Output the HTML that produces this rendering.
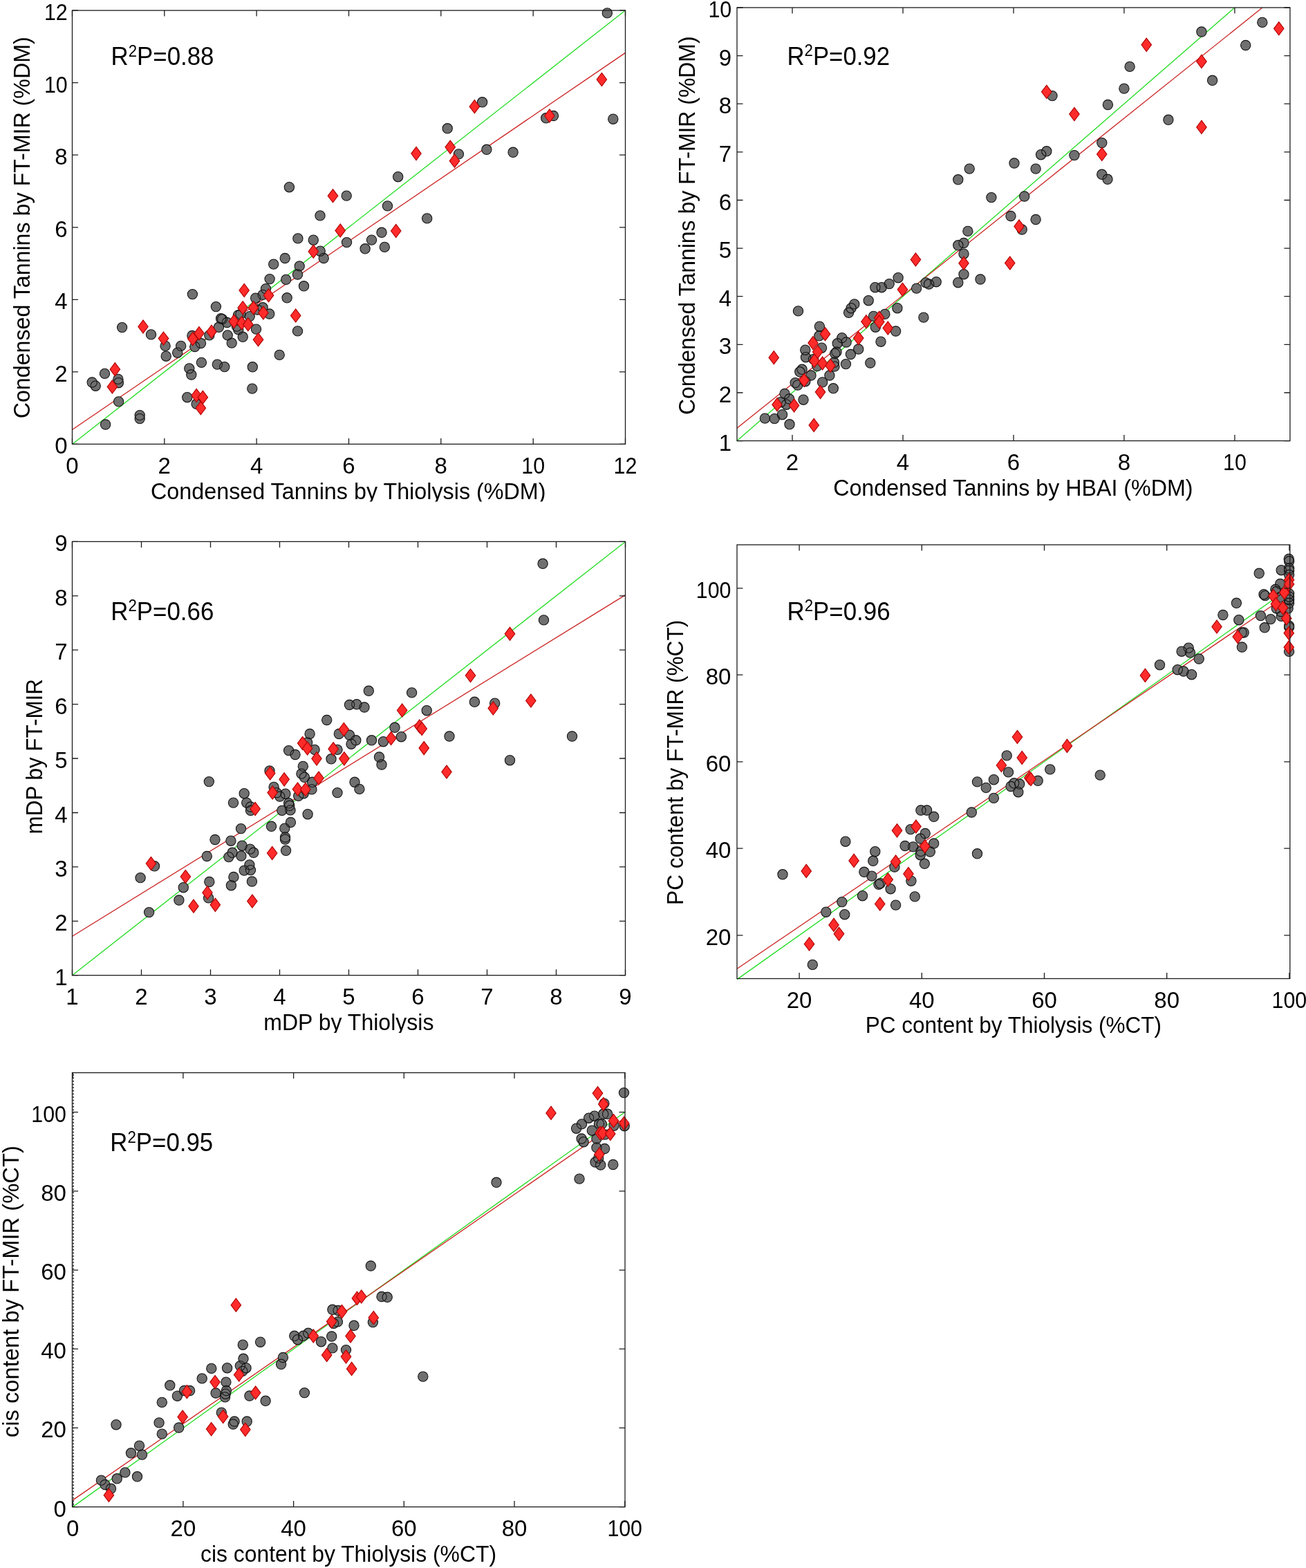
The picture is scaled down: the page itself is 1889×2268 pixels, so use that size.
<!DOCTYPE html>
<html><head><meta charset="utf-8"><title>Figure</title><style>html,body{margin:0;padding:0;background:#fff;}svg{display:block;}</style></head><body>
<svg width="1889" height="2268" viewBox="0 0 1889 2268">
<defs><clipPath id="c1"><rect x="0" y="0" width="944" height="725.5"/></clipPath><clipPath id="c3"><rect x="0" y="740" width="944" height="754"/></clipPath></defs>
<rect width="1889" height="2268" fill="#fff"/>
<g clip-path="url(#c1)">
<line x1="104.5" y1="642.4" x2="904.5" y2="15.1" stroke="#22dd22" stroke-width="1.3"/>
<line x1="104.5" y1="621.5" x2="904.5" y2="76.4" stroke="#cc2222" stroke-width="1.3"/>
<g fill="#707070">
<circle cx="418.4" cy="270.7" r="7.15"/>
<circle cx="463" cy="311.9" r="7.15"/>
<circle cx="878.3" cy="18.9" r="7.15"/>
<circle cx="697.6" cy="147.8" r="7.15"/>
<circle cx="647.2" cy="185.8" r="7.15"/>
<circle cx="663.4" cy="222.9" r="7.15"/>
<circle cx="703.9" cy="216.3" r="7.15"/>
<circle cx="742.1" cy="220.3" r="7.15"/>
<circle cx="789.7" cy="170.8" r="7.15"/>
<circle cx="800.5" cy="167.5" r="7.15"/>
<circle cx="886.8" cy="172.2" r="7.15"/>
<circle cx="575.7" cy="255.7" r="7.15"/>
<circle cx="501.2" cy="283.1" r="7.15"/>
<circle cx="560.5" cy="297.9" r="7.15"/>
<circle cx="617.7" cy="315.9" r="7.15"/>
<circle cx="552" cy="336.3" r="7.15"/>
<circle cx="537.5" cy="347.1" r="7.15"/>
<circle cx="501.5" cy="350.6" r="7.15"/>
<circle cx="528.1" cy="359.8" r="7.15"/>
<circle cx="556.3" cy="357.4" r="7.15"/>
<circle cx="133.2" cy="553" r="7.15"/>
<circle cx="138.2" cy="558.2" r="7.15"/>
<circle cx="151.5" cy="540.4" r="7.15"/>
<circle cx="170.9" cy="548.4" r="7.15"/>
<circle cx="171.4" cy="553.7" r="7.15"/>
<circle cx="171.6" cy="580.9" r="7.15"/>
<circle cx="152.6" cy="614" r="7.15"/>
<circle cx="202.2" cy="600.6" r="7.15"/>
<circle cx="202.2" cy="605.6" r="7.15"/>
<circle cx="176.6" cy="473.6" r="7.15"/>
<circle cx="218.5" cy="483.9" r="7.15"/>
<circle cx="239.1" cy="500.4" r="7.15"/>
<circle cx="240.2" cy="515.2" r="7.15"/>
<circle cx="261.7" cy="500.4" r="7.15"/>
<circle cx="256.7" cy="510.2" r="7.15"/>
<circle cx="278.4" cy="425.6" r="7.15"/>
<circle cx="277.9" cy="485.5" r="7.15"/>
<circle cx="281.8" cy="501.5" r="7.15"/>
<circle cx="290.5" cy="496.5" r="7.15"/>
<circle cx="273.8" cy="532.9" r="7.15"/>
<circle cx="276.8" cy="542" r="7.15"/>
<circle cx="291.4" cy="524.4" r="7.15"/>
<circle cx="314.3" cy="527.1" r="7.15"/>
<circle cx="324.8" cy="530.6" r="7.15"/>
<circle cx="365.3" cy="530.8" r="7.15"/>
<circle cx="364.8" cy="562.1" r="7.15"/>
<circle cx="404.2" cy="513.4" r="7.15"/>
<circle cx="270.8" cy="574.7" r="7.15"/>
<circle cx="284.1" cy="584.3" r="7.15"/>
<circle cx="302.8" cy="484.9" r="7.15"/>
<circle cx="312.4" cy="443.6" r="7.15"/>
<circle cx="316.4" cy="473.3" r="7.15"/>
<circle cx="319.6" cy="460.8" r="7.15"/>
<circle cx="321.6" cy="461.6" r="7.15"/>
<circle cx="328.4" cy="466.5" r="7.15"/>
<circle cx="329.2" cy="484.9" r="7.15"/>
<circle cx="335.2" cy="496.1" r="7.15"/>
<circle cx="342.4" cy="472.1" r="7.15"/>
<circle cx="344.8" cy="476.9" r="7.15"/>
<circle cx="344.4" cy="456" r="7.15"/>
<circle cx="348" cy="454.4" r="7.15"/>
<circle cx="351.2" cy="487.3" r="7.15"/>
<circle cx="361.2" cy="457.6" r="7.15"/>
<circle cx="369.7" cy="431.2" r="7.15"/>
<circle cx="370.5" cy="476.1" r="7.15"/>
<circle cx="372.5" cy="448" r="7.15"/>
<circle cx="380.1" cy="426.4" r="7.15"/>
<circle cx="380.1" cy="444.8" r="7.15"/>
<circle cx="384.5" cy="417.6" r="7.15"/>
<circle cx="389.7" cy="454" r="7.15"/>
<circle cx="390.1" cy="403.6" r="7.15"/>
<circle cx="395.7" cy="382.1" r="7.15"/>
<circle cx="412.2" cy="373.5" r="7.15"/>
<circle cx="413.7" cy="404.4" r="7.15"/>
<circle cx="415.1" cy="430.8" r="7.15"/>
<circle cx="430.5" cy="478.9" r="7.15"/>
<circle cx="430.5" cy="397" r="7.15"/>
<circle cx="433.2" cy="384.9" r="7.15"/>
<circle cx="439.5" cy="413.8" r="7.15"/>
<circle cx="430.9" cy="344.9" r="7.15"/>
<circle cx="453.3" cy="347.2" r="7.15"/>
<circle cx="463.2" cy="363.2" r="7.15"/>
<circle cx="468.2" cy="373.5" r="7.15"/>
</g><g fill="none" stroke="#141414" stroke-width="1.1">
<circle cx="418.4" cy="270.7" r="7.15"/>
<circle cx="463" cy="311.9" r="7.15"/>
<circle cx="878.3" cy="18.9" r="7.15"/>
<circle cx="697.6" cy="147.8" r="7.15"/>
<circle cx="647.2" cy="185.8" r="7.15"/>
<circle cx="663.4" cy="222.9" r="7.15"/>
<circle cx="703.9" cy="216.3" r="7.15"/>
<circle cx="742.1" cy="220.3" r="7.15"/>
<circle cx="789.7" cy="170.8" r="7.15"/>
<circle cx="800.5" cy="167.5" r="7.15"/>
<circle cx="886.8" cy="172.2" r="7.15"/>
<circle cx="575.7" cy="255.7" r="7.15"/>
<circle cx="501.2" cy="283.1" r="7.15"/>
<circle cx="560.5" cy="297.9" r="7.15"/>
<circle cx="617.7" cy="315.9" r="7.15"/>
<circle cx="552" cy="336.3" r="7.15"/>
<circle cx="537.5" cy="347.1" r="7.15"/>
<circle cx="501.5" cy="350.6" r="7.15"/>
<circle cx="528.1" cy="359.8" r="7.15"/>
<circle cx="556.3" cy="357.4" r="7.15"/>
<circle cx="133.2" cy="553" r="7.15"/>
<circle cx="138.2" cy="558.2" r="7.15"/>
<circle cx="151.5" cy="540.4" r="7.15"/>
<circle cx="170.9" cy="548.4" r="7.15"/>
<circle cx="171.4" cy="553.7" r="7.15"/>
<circle cx="171.6" cy="580.9" r="7.15"/>
<circle cx="152.6" cy="614" r="7.15"/>
<circle cx="202.2" cy="600.6" r="7.15"/>
<circle cx="202.2" cy="605.6" r="7.15"/>
<circle cx="176.6" cy="473.6" r="7.15"/>
<circle cx="218.5" cy="483.9" r="7.15"/>
<circle cx="239.1" cy="500.4" r="7.15"/>
<circle cx="240.2" cy="515.2" r="7.15"/>
<circle cx="261.7" cy="500.4" r="7.15"/>
<circle cx="256.7" cy="510.2" r="7.15"/>
<circle cx="278.4" cy="425.6" r="7.15"/>
<circle cx="277.9" cy="485.5" r="7.15"/>
<circle cx="281.8" cy="501.5" r="7.15"/>
<circle cx="290.5" cy="496.5" r="7.15"/>
<circle cx="273.8" cy="532.9" r="7.15"/>
<circle cx="276.8" cy="542" r="7.15"/>
<circle cx="291.4" cy="524.4" r="7.15"/>
<circle cx="314.3" cy="527.1" r="7.15"/>
<circle cx="324.8" cy="530.6" r="7.15"/>
<circle cx="365.3" cy="530.8" r="7.15"/>
<circle cx="364.8" cy="562.1" r="7.15"/>
<circle cx="404.2" cy="513.4" r="7.15"/>
<circle cx="270.8" cy="574.7" r="7.15"/>
<circle cx="284.1" cy="584.3" r="7.15"/>
<circle cx="302.8" cy="484.9" r="7.15"/>
<circle cx="312.4" cy="443.6" r="7.15"/>
<circle cx="316.4" cy="473.3" r="7.15"/>
<circle cx="319.6" cy="460.8" r="7.15"/>
<circle cx="321.6" cy="461.6" r="7.15"/>
<circle cx="328.4" cy="466.5" r="7.15"/>
<circle cx="329.2" cy="484.9" r="7.15"/>
<circle cx="335.2" cy="496.1" r="7.15"/>
<circle cx="342.4" cy="472.1" r="7.15"/>
<circle cx="344.8" cy="476.9" r="7.15"/>
<circle cx="344.4" cy="456" r="7.15"/>
<circle cx="348" cy="454.4" r="7.15"/>
<circle cx="351.2" cy="487.3" r="7.15"/>
<circle cx="361.2" cy="457.6" r="7.15"/>
<circle cx="369.7" cy="431.2" r="7.15"/>
<circle cx="370.5" cy="476.1" r="7.15"/>
<circle cx="372.5" cy="448" r="7.15"/>
<circle cx="380.1" cy="426.4" r="7.15"/>
<circle cx="380.1" cy="444.8" r="7.15"/>
<circle cx="384.5" cy="417.6" r="7.15"/>
<circle cx="389.7" cy="454" r="7.15"/>
<circle cx="390.1" cy="403.6" r="7.15"/>
<circle cx="395.7" cy="382.1" r="7.15"/>
<circle cx="412.2" cy="373.5" r="7.15"/>
<circle cx="413.7" cy="404.4" r="7.15"/>
<circle cx="415.1" cy="430.8" r="7.15"/>
<circle cx="430.5" cy="478.9" r="7.15"/>
<circle cx="430.5" cy="397" r="7.15"/>
<circle cx="433.2" cy="384.9" r="7.15"/>
<circle cx="439.5" cy="413.8" r="7.15"/>
<circle cx="430.9" cy="344.9" r="7.15"/>
<circle cx="453.3" cy="347.2" r="7.15"/>
<circle cx="463.2" cy="363.2" r="7.15"/>
<circle cx="468.2" cy="373.5" r="7.15"/>
</g>
<g fill="#ff2b2b" stroke="#b00000" stroke-width="1.1" stroke-linejoin="miter">
<path d="M481.5 273.7L488.8 283.3L481.5 292.9L474.2 283.3Z"/>
<path d="M870.4 105.3L877.6 115L870.4 124.7L863.1 115Z"/>
<path d="M686.4 144.5L693.6 154.2L686.4 163.8L679.1 154.2Z"/>
<path d="M651.2 203.2L658.5 212.8L651.2 222.5L644 212.8Z"/>
<path d="M657.5 223L664.8 232.7L657.5 242.3L650.2 232.7Z"/>
<path d="M602 212.4L609.2 222.1L602 231.8L594.8 222.1Z"/>
<path d="M794.9 157.8L802.1 167.5L794.9 177.2L787.6 167.5Z"/>
<path d="M572.7 324.4L580 334L572.7 343.6L565.5 334Z"/>
<path d="M166.3 524.6L173.6 534.2L166.3 543.9L159.1 534.2Z"/>
<path d="M162.4 549.8L169.7 559.4L162.4 569L155.2 559.4Z"/>
<path d="M207 462.9L214.2 472.5L207 482.1L199.8 472.5Z"/>
<path d="M236.5 480L243.8 489.6L236.5 499.2L229.2 489.6Z"/>
<path d="M278.8 480.5L286.1 490.1L278.8 499.8L271.6 490.1Z"/>
<path d="M288 472.5L295.2 482.1L288 491.8L280.8 482.1Z"/>
<path d="M284.1 562.4L291.4 572L284.1 581.6L276.9 572Z"/>
<path d="M293.3 565.1L300.6 574.7L293.3 584.4L286.1 574.7Z"/>
<path d="M290.3 580.6L297.6 590.3L290.3 599.9L283.1 590.3Z"/>
<path d="M306 470.1L313.2 479.7L306 489.3L298.8 479.7Z"/>
<path d="M338.4 455.2L345.6 464.9L338.4 474.5L331.1 464.9Z"/>
<path d="M349.6 457.7L356.9 467.3L349.6 476.9L342.4 467.3Z"/>
<path d="M351.2 435.6L358.4 445.2L351.2 454.8L343.9 445.2Z"/>
<path d="M353.2 410.4L360.4 420L353.2 429.6L345.9 420Z"/>
<path d="M358.8 459.7L366.1 469.3L358.8 478.9L351.6 469.3Z"/>
<path d="M366.5 435.6L373.8 445.2L366.5 454.8L359.2 445.2Z"/>
<path d="M373.5 481.6L380.8 491.2L373.5 500.8L366.2 491.2Z"/>
<path d="M380.9 442.8L388.1 452.4L380.9 462L373.6 452.4Z"/>
<path d="M388.5 417.6L395.8 427.2L388.5 436.8L381.2 427.2Z"/>
<path d="M427.7 446.8L434.9 456.4L427.7 466L420.4 456.4Z"/>
<path d="M453.3 354.2L460.6 363.8L453.3 373.4L446.1 363.8Z"/>
<path d="M492.2 323.8L499.4 333.4L492.2 343L484.9 333.4Z"/>
</g>
<g stroke="#1c1c1c" stroke-width="1.3" fill="none">
<rect x="104.5" y="15.1" width="800" height="627.3"/>
<path d="M104.5 642.4v-8.5M104.5 15.1v8.5M237.8 642.4v-8.5M237.8 15.1v8.5M371.1 642.4v-8.5M371.1 15.1v8.5M504.5 642.4v-8.5M504.5 15.1v8.5M637.8 642.4v-8.5M637.8 15.1v8.5M771.2 642.4v-8.5M771.2 15.1v8.5M904.5 642.4v-8.5M904.5 15.1v8.5M104.5 642.4h8.5M904.5 642.4h-8.5M104.5 537.9h8.5M904.5 537.9h-8.5M104.5 433.3h8.5M904.5 433.3h-8.5M104.5 328.8h8.5M904.5 328.8h-8.5M104.5 224.2h8.5M904.5 224.2h-8.5M104.5 119.6h8.5M904.5 119.6h-8.5M104.5 15.1h8.5M904.5 15.1h-8.5" stroke-width="1.3"/>
</g>
<g font-family="'Liberation Sans', Arial, sans-serif" font-size="33" fill="#000">
<text x="104.5" y="684.7" text-anchor="middle">0</text>
<text x="237.8" y="684.7" text-anchor="middle">2</text>
<text x="371.1" y="684.7" text-anchor="middle">4</text>
<text x="504.5" y="684.7" text-anchor="middle">6</text>
<text x="637.8" y="684.7" text-anchor="middle">8</text>
<text x="771.2" y="684.7" text-anchor="middle" textLength="33.8" lengthAdjust="spacingAndGlyphs">10</text>
<text x="904.5" y="684.7" text-anchor="middle" textLength="33.8" lengthAdjust="spacingAndGlyphs">12</text>
<text x="97.7" y="656.4" text-anchor="end">0</text>
<text x="97.7" y="551.9" text-anchor="end">2</text>
<text x="97.7" y="447.3" text-anchor="end">4</text>
<text x="97.7" y="342.8" text-anchor="end">6</text>
<text x="97.7" y="238.2" text-anchor="end">8</text>
<text x="97.7" y="133.6" text-anchor="end" textLength="33.8" lengthAdjust="spacingAndGlyphs">10</text>
<text x="97.7" y="29.1" text-anchor="end" textLength="33.8" lengthAdjust="spacingAndGlyphs">12</text>
</g>
<text x="218" y="721.6" font-family="'Liberation Sans', Arial, sans-serif" font-size="33.3" textLength="571.5" lengthAdjust="spacingAndGlyphs">Condensed Tannins by Thiolysis (%DM)</text>
<text transform="translate(43.3 605.3) rotate(-90)" font-family="'Liberation Sans', Arial, sans-serif" font-size="33.3" textLength="552" lengthAdjust="spacingAndGlyphs">Condensed Tannins by FT-MIR (%DM)</text>
<text x="160.5" y="94.2" font-family="'Liberation Sans', Arial, sans-serif" font-size="37.6" textLength="149" lengthAdjust="spacingAndGlyphs">R<tspan font-size="24" dy="-12.5">2</tspan><tspan dy="12.5">P=0.88</tspan></text>
</g>
<g>
<line x1="1066" y1="637.6" x2="1785.9" y2="11" stroke="#22dd22" stroke-width="1.3"/>
<line x1="1066" y1="619.3" x2="1825.9" y2="11" stroke="#cc2222" stroke-width="1.3"/>
<g fill="#707070">
<circle cx="1825.8" cy="32.4" r="7.15"/>
<circle cx="1737.9" cy="46" r="7.15"/>
<circle cx="1801.7" cy="65.5" r="7.15"/>
<circle cx="1634.1" cy="96.4" r="7.15"/>
<circle cx="1753.6" cy="116.3" r="7.15"/>
<circle cx="1625.9" cy="128.1" r="7.15"/>
<circle cx="1522" cy="138.6" r="7.15"/>
<circle cx="1602.4" cy="151.5" r="7.15"/>
<circle cx="1689.9" cy="173.3" r="7.15"/>
<circle cx="1593.8" cy="206.6" r="7.15"/>
<circle cx="1553.9" cy="224.6" r="7.15"/>
<circle cx="1505.6" cy="223.7" r="7.15"/>
<circle cx="1513.8" cy="218.8" r="7.15"/>
<circle cx="1498.1" cy="244.1" r="7.15"/>
<circle cx="1467" cy="236" r="7.15"/>
<circle cx="1593.8" cy="252.3" r="7.15"/>
<circle cx="1602" cy="259.3" r="7.15"/>
<circle cx="1481.7" cy="284" r="7.15"/>
<circle cx="1498.1" cy="317.5" r="7.15"/>
<circle cx="1478.2" cy="332" r="7.15"/>
<circle cx="1402.2" cy="244.1" r="7.15"/>
<circle cx="1385.8" cy="259.8" r="7.15"/>
<circle cx="1433.9" cy="285.6" r="7.15"/>
<circle cx="1462" cy="312.5" r="7.15"/>
<circle cx="1399.9" cy="334.4" r="7.15"/>
<circle cx="1385.8" cy="354.8" r="7.15"/>
<circle cx="1394" cy="351.5" r="7.15"/>
<circle cx="1394" cy="367.2" r="7.15"/>
<circle cx="1394" cy="396.7" r="7.15"/>
<circle cx="1385.8" cy="408.7" r="7.15"/>
<circle cx="1418" cy="404" r="7.15"/>
<circle cx="1299.1" cy="401.7" r="7.15"/>
<circle cx="1286.2" cy="410.6" r="7.15"/>
<circle cx="1275.2" cy="415.7" r="7.15"/>
<circle cx="1265.8" cy="415.7" r="7.15"/>
<circle cx="1325.6" cy="417.1" r="7.15"/>
<circle cx="1339" cy="408.9" r="7.15"/>
<circle cx="1343.6" cy="411" r="7.15"/>
<circle cx="1354.2" cy="407.7" r="7.15"/>
<circle cx="1256.2" cy="434.7" r="7.15"/>
<circle cx="1235.8" cy="439.9" r="7.15"/>
<circle cx="1231.1" cy="445.7" r="7.15"/>
<circle cx="1227.6" cy="452.3" r="7.15"/>
<circle cx="1297.9" cy="445.7" r="7.15"/>
<circle cx="1335.9" cy="459.1" r="7.15"/>
<circle cx="1154.5" cy="449.9" r="7.15"/>
<circle cx="1263.5" cy="457.4" r="7.15"/>
<circle cx="1279.9" cy="454.4" r="7.15"/>
<circle cx="1266.3" cy="473.2" r="7.15"/>
<circle cx="1295.6" cy="479" r="7.15"/>
<circle cx="1274" cy="494.2" r="7.15"/>
<circle cx="1241.7" cy="505" r="7.15"/>
<circle cx="1185.4" cy="472.2" r="7.15"/>
<circle cx="1184.9" cy="485.8" r="7.15"/>
<circle cx="1188.5" cy="503.2" r="7.15"/>
<circle cx="1164.8" cy="506.2" r="7.15"/>
<circle cx="1165.5" cy="516.7" r="7.15"/>
<circle cx="1176.5" cy="519.6" r="7.15"/>
<circle cx="1181.9" cy="529.6" r="7.15"/>
<circle cx="1206.5" cy="524.3" r="7.15"/>
<circle cx="1207" cy="530.1" r="7.15"/>
<circle cx="1217.8" cy="488.6" r="7.15"/>
<circle cx="1224.1" cy="495" r="7.15"/>
<circle cx="1211.2" cy="496.8" r="7.15"/>
<circle cx="1210" cy="509" r="7.15"/>
<circle cx="1207.7" cy="511.4" r="7.15"/>
<circle cx="1230.4" cy="512.5" r="7.15"/>
<circle cx="1223.4" cy="526.6" r="7.15"/>
<circle cx="1258.8" cy="525" r="7.15"/>
<circle cx="1160.1" cy="534.3" r="7.15"/>
<circle cx="1156.8" cy="537.8" r="7.15"/>
<circle cx="1173" cy="543" r="7.15"/>
<circle cx="1199.9" cy="543" r="7.15"/>
<circle cx="1164.8" cy="551.7" r="7.15"/>
<circle cx="1150.2" cy="553.6" r="7.15"/>
<circle cx="1153.8" cy="557.1" r="7.15"/>
<circle cx="1189.6" cy="552.9" r="7.15"/>
<circle cx="1205.3" cy="561.8" r="7.15"/>
<circle cx="1135" cy="569.5" r="7.15"/>
<circle cx="1141.6" cy="577" r="7.15"/>
<circle cx="1129.2" cy="581.7" r="7.15"/>
<circle cx="1137.4" cy="585.2" r="7.15"/>
<circle cx="1162" cy="578.2" r="7.15"/>
<circle cx="1106.4" cy="605.1" r="7.15"/>
<circle cx="1120.2" cy="605.6" r="7.15"/>
<circle cx="1131.5" cy="599.7" r="7.15"/>
<circle cx="1142" cy="613.8" r="7.15"/>
</g><g fill="none" stroke="#141414" stroke-width="1.1">
<circle cx="1825.8" cy="32.4" r="7.15"/>
<circle cx="1737.9" cy="46" r="7.15"/>
<circle cx="1801.7" cy="65.5" r="7.15"/>
<circle cx="1634.1" cy="96.4" r="7.15"/>
<circle cx="1753.6" cy="116.3" r="7.15"/>
<circle cx="1625.9" cy="128.1" r="7.15"/>
<circle cx="1522" cy="138.6" r="7.15"/>
<circle cx="1602.4" cy="151.5" r="7.15"/>
<circle cx="1689.9" cy="173.3" r="7.15"/>
<circle cx="1593.8" cy="206.6" r="7.15"/>
<circle cx="1553.9" cy="224.6" r="7.15"/>
<circle cx="1505.6" cy="223.7" r="7.15"/>
<circle cx="1513.8" cy="218.8" r="7.15"/>
<circle cx="1498.1" cy="244.1" r="7.15"/>
<circle cx="1467" cy="236" r="7.15"/>
<circle cx="1593.8" cy="252.3" r="7.15"/>
<circle cx="1602" cy="259.3" r="7.15"/>
<circle cx="1481.7" cy="284" r="7.15"/>
<circle cx="1498.1" cy="317.5" r="7.15"/>
<circle cx="1478.2" cy="332" r="7.15"/>
<circle cx="1402.2" cy="244.1" r="7.15"/>
<circle cx="1385.8" cy="259.8" r="7.15"/>
<circle cx="1433.9" cy="285.6" r="7.15"/>
<circle cx="1462" cy="312.5" r="7.15"/>
<circle cx="1399.9" cy="334.4" r="7.15"/>
<circle cx="1385.8" cy="354.8" r="7.15"/>
<circle cx="1394" cy="351.5" r="7.15"/>
<circle cx="1394" cy="367.2" r="7.15"/>
<circle cx="1394" cy="396.7" r="7.15"/>
<circle cx="1385.8" cy="408.7" r="7.15"/>
<circle cx="1418" cy="404" r="7.15"/>
<circle cx="1299.1" cy="401.7" r="7.15"/>
<circle cx="1286.2" cy="410.6" r="7.15"/>
<circle cx="1275.2" cy="415.7" r="7.15"/>
<circle cx="1265.8" cy="415.7" r="7.15"/>
<circle cx="1325.6" cy="417.1" r="7.15"/>
<circle cx="1339" cy="408.9" r="7.15"/>
<circle cx="1343.6" cy="411" r="7.15"/>
<circle cx="1354.2" cy="407.7" r="7.15"/>
<circle cx="1256.2" cy="434.7" r="7.15"/>
<circle cx="1235.8" cy="439.9" r="7.15"/>
<circle cx="1231.1" cy="445.7" r="7.15"/>
<circle cx="1227.6" cy="452.3" r="7.15"/>
<circle cx="1297.9" cy="445.7" r="7.15"/>
<circle cx="1335.9" cy="459.1" r="7.15"/>
<circle cx="1154.5" cy="449.9" r="7.15"/>
<circle cx="1263.5" cy="457.4" r="7.15"/>
<circle cx="1279.9" cy="454.4" r="7.15"/>
<circle cx="1266.3" cy="473.2" r="7.15"/>
<circle cx="1295.6" cy="479" r="7.15"/>
<circle cx="1274" cy="494.2" r="7.15"/>
<circle cx="1241.7" cy="505" r="7.15"/>
<circle cx="1185.4" cy="472.2" r="7.15"/>
<circle cx="1184.9" cy="485.8" r="7.15"/>
<circle cx="1188.5" cy="503.2" r="7.15"/>
<circle cx="1164.8" cy="506.2" r="7.15"/>
<circle cx="1165.5" cy="516.7" r="7.15"/>
<circle cx="1176.5" cy="519.6" r="7.15"/>
<circle cx="1181.9" cy="529.6" r="7.15"/>
<circle cx="1206.5" cy="524.3" r="7.15"/>
<circle cx="1207" cy="530.1" r="7.15"/>
<circle cx="1217.8" cy="488.6" r="7.15"/>
<circle cx="1224.1" cy="495" r="7.15"/>
<circle cx="1211.2" cy="496.8" r="7.15"/>
<circle cx="1210" cy="509" r="7.15"/>
<circle cx="1207.7" cy="511.4" r="7.15"/>
<circle cx="1230.4" cy="512.5" r="7.15"/>
<circle cx="1223.4" cy="526.6" r="7.15"/>
<circle cx="1258.8" cy="525" r="7.15"/>
<circle cx="1160.1" cy="534.3" r="7.15"/>
<circle cx="1156.8" cy="537.8" r="7.15"/>
<circle cx="1173" cy="543" r="7.15"/>
<circle cx="1199.9" cy="543" r="7.15"/>
<circle cx="1164.8" cy="551.7" r="7.15"/>
<circle cx="1150.2" cy="553.6" r="7.15"/>
<circle cx="1153.8" cy="557.1" r="7.15"/>
<circle cx="1189.6" cy="552.9" r="7.15"/>
<circle cx="1205.3" cy="561.8" r="7.15"/>
<circle cx="1135" cy="569.5" r="7.15"/>
<circle cx="1141.6" cy="577" r="7.15"/>
<circle cx="1129.2" cy="581.7" r="7.15"/>
<circle cx="1137.4" cy="585.2" r="7.15"/>
<circle cx="1162" cy="578.2" r="7.15"/>
<circle cx="1106.4" cy="605.1" r="7.15"/>
<circle cx="1120.2" cy="605.6" r="7.15"/>
<circle cx="1131.5" cy="599.7" r="7.15"/>
<circle cx="1142" cy="613.8" r="7.15"/>
</g>
<g fill="#ff2b2b" stroke="#b00000" stroke-width="1.1" stroke-linejoin="miter">
<path d="M1849.8 31.6L1857 41.3L1849.8 50.9L1842.5 41.3Z"/>
<path d="M1658.2 55.1L1665.5 64.8L1658.2 74.5L1651 64.8Z"/>
<path d="M1737.9 79.2L1745.2 88.9L1737.9 98.6L1730.7 88.9Z"/>
<path d="M1513.8 123.2L1521 132.8L1513.8 142.5L1506.5 132.8Z"/>
<path d="M1553.9 155.4L1561.2 165.1L1553.9 174.8L1546.7 165.1Z"/>
<path d="M1737.9 174.2L1745.2 183.9L1737.9 193.6L1730.7 183.9Z"/>
<path d="M1593.8 213.3L1601 223L1593.8 232.7L1586.5 223Z"/>
<path d="M1474 317.9L1481.2 327.5L1474 337.1L1466.8 327.5Z"/>
<path d="M1394 371.2L1401.2 380.8L1394 390.4L1386.8 380.8Z"/>
<path d="M1324.4 365.8L1331.7 375.4L1324.4 385L1317.2 375.4Z"/>
<path d="M1460.8 371L1468 380.6L1460.8 390.2L1453.5 380.6Z"/>
<path d="M1305.4 409.2L1312.7 418.8L1305.4 428.4L1298.2 418.8Z"/>
<path d="M1252.9 455.6L1260.2 465.2L1252.9 474.8L1245.7 465.2Z"/>
<path d="M1271.7 450.2L1279 459.8L1271.7 469.4L1264.5 459.8Z"/>
<path d="M1271.7 456L1279 465.6L1271.7 475.2L1264.5 465.6Z"/>
<path d="M1284.3 465L1291.5 474.6L1284.3 484.2L1277 474.6Z"/>
<path d="M1241.7 479.5L1249 489.1L1241.7 498.8L1234.5 489.1Z"/>
<path d="M1193.6 473.6L1200.8 483.2L1193.6 492.8L1186.3 483.2Z"/>
<path d="M1176 486.5L1183.2 496.1L1176 505.8L1168.8 496.1Z"/>
<path d="M1182.6 499.4L1189.8 509L1182.6 518.6L1175.3 509Z"/>
<path d="M1177.9 512.2L1185.2 521.9L1177.9 531.5L1170.7 521.9Z"/>
<path d="M1189.6 515.8L1196.8 525.4L1189.6 535L1182.3 525.4Z"/>
<path d="M1201.1 519.2L1208.3 528.9L1201.1 538.5L1193.8 528.9Z"/>
<path d="M1163.1 540.4L1170.3 550L1163.1 559.6L1155.8 550Z"/>
<path d="M1186.6 557.5L1193.8 567.1L1186.6 576.8L1179.3 567.1Z"/>
<path d="M1124 575.6L1131.2 585.2L1124 594.9L1116.8 585.2Z"/>
<path d="M1148.6 576.8L1155.8 586.4L1148.6 596L1141.3 586.4Z"/>
<path d="M1119.3 507.6L1126.5 517.2L1119.3 526.9L1112 517.2Z"/>
<path d="M1177.2 605.4L1184.5 615L1177.2 624.6L1170 615Z"/>
</g>
<g stroke="#1c1c1c" stroke-width="1.3" fill="none">
<rect x="1066" y="11" width="799.9" height="626.6"/>
<path d="M1146 637.6v-8.5M1146 11v8.5M1306 637.6v-8.5M1306 11v8.5M1466 637.6v-8.5M1466 11v8.5M1625.9 637.6v-8.5M1625.9 11v8.5M1785.9 637.6v-8.5M1785.9 11v8.5M1066 637.6h8.5M1865.9 637.6h-8.5M1066 568h8.5M1865.9 568h-8.5M1066 498.4h8.5M1865.9 498.4h-8.5M1066 428.7h8.5M1865.9 428.7h-8.5M1066 359.1h8.5M1865.9 359.1h-8.5M1066 289.5h8.5M1865.9 289.5h-8.5M1066 219.9h8.5M1865.9 219.9h-8.5M1066 150.2h8.5M1865.9 150.2h-8.5M1066 80.6h8.5M1865.9 80.6h-8.5M1066 11h8.5M1865.9 11h-8.5" stroke-width="1.3"/>
</g>
<g font-family="'Liberation Sans', Arial, sans-serif" font-size="33" fill="#000">
<text x="1146" y="679.9" text-anchor="middle">2</text>
<text x="1306" y="679.9" text-anchor="middle">4</text>
<text x="1466" y="679.9" text-anchor="middle">6</text>
<text x="1625.9" y="679.9" text-anchor="middle">8</text>
<text x="1785.9" y="679.9" text-anchor="middle" textLength="33.8" lengthAdjust="spacingAndGlyphs">10</text>
<text x="1058.2" y="651.6" text-anchor="end">1</text>
<text x="1058.2" y="582" text-anchor="end">2</text>
<text x="1058.2" y="512.4" text-anchor="end">3</text>
<text x="1058.2" y="442.7" text-anchor="end">4</text>
<text x="1058.2" y="373.1" text-anchor="end">5</text>
<text x="1058.2" y="303.5" text-anchor="end">6</text>
<text x="1058.2" y="233.9" text-anchor="end">7</text>
<text x="1058.2" y="164.2" text-anchor="end">8</text>
<text x="1058.2" y="94.6" text-anchor="end">9</text>
<text x="1058.2" y="25" text-anchor="end" textLength="33.8" lengthAdjust="spacingAndGlyphs">10</text>
</g>
<text x="1205.2" y="716.6" font-family="'Liberation Sans', Arial, sans-serif" font-size="33.3" textLength="520.3" lengthAdjust="spacingAndGlyphs">Condensed Tannins by HBAI (%DM)</text>
<text transform="translate(1004.8 600.1) rotate(-90)" font-family="'Liberation Sans', Arial, sans-serif" font-size="33.3" textLength="547.7" lengthAdjust="spacingAndGlyphs">Condensed Tannins by FT-MIR (%DM)</text>
<text x="1138.5" y="93.6" font-family="'Liberation Sans', Arial, sans-serif" font-size="37.6" textLength="148.5" lengthAdjust="spacingAndGlyphs">R<tspan font-size="24" dy="-12.5">2</tspan><tspan dy="12.5">P=0.92</tspan></text>
</g>
<g clip-path="url(#c3)">
<line x1="104.5" y1="1410.7" x2="904.5" y2="783.4" stroke="#22dd22" stroke-width="1.3"/>
<line x1="104.5" y1="1354.2" x2="904.5" y2="860.6" stroke="#cc2222" stroke-width="1.3"/>
<g fill="#707070">
<circle cx="505.5" cy="1019.5" r="7.15"/>
<circle cx="472.7" cy="1041.5" r="7.15"/>
<circle cx="448.1" cy="1061.5" r="7.15"/>
<circle cx="490.3" cy="1061.5" r="7.15"/>
<circle cx="505.5" cy="1063.3" r="7.15"/>
<circle cx="444.6" cy="1073.9" r="7.15"/>
<circle cx="455.1" cy="1084.4" r="7.15"/>
<circle cx="417.6" cy="1085.6" r="7.15"/>
<circle cx="427" cy="1091.5" r="7.15"/>
<circle cx="488" cy="1084.4" r="7.15"/>
<circle cx="508" cy="1076.2" r="7.15"/>
<circle cx="785.1" cy="815.3" r="7.15"/>
<circle cx="786.5" cy="896.9" r="7.15"/>
<circle cx="686.4" cy="1015.3" r="7.15"/>
<circle cx="715.7" cy="1017.2" r="7.15"/>
<circle cx="827.5" cy="1065" r="7.15"/>
<circle cx="650" cy="1065" r="7.15"/>
<circle cx="533.3" cy="999.3" r="7.15"/>
<circle cx="595.6" cy="1001.9" r="7.15"/>
<circle cx="515.9" cy="1018.8" r="7.15"/>
<circle cx="527" cy="1023" r="7.15"/>
<circle cx="617.2" cy="1027.7" r="7.15"/>
<circle cx="571" cy="1052.3" r="7.15"/>
<circle cx="580.4" cy="1065.7" r="7.15"/>
<circle cx="554.4" cy="1072.7" r="7.15"/>
<circle cx="537.5" cy="1070.8" r="7.15"/>
<circle cx="514.8" cy="1070.8" r="7.15"/>
<circle cx="548.5" cy="1095" r="7.15"/>
<circle cx="552" cy="1106" r="7.15"/>
<circle cx="513" cy="1131.3" r="7.15"/>
<circle cx="519.9" cy="1141.4" r="7.15"/>
<circle cx="737.5" cy="1099.7" r="7.15"/>
<circle cx="302.3" cy="1130.6" r="7.15"/>
<circle cx="353.2" cy="1147.7" r="7.15"/>
<circle cx="337.5" cy="1161.1" r="7.15"/>
<circle cx="356.7" cy="1161.1" r="7.15"/>
<circle cx="362.5" cy="1167" r="7.15"/>
<circle cx="362.5" cy="1172.4" r="7.15"/>
<circle cx="390" cy="1114.9" r="7.15"/>
<circle cx="396.1" cy="1138.4" r="7.15"/>
<circle cx="400.1" cy="1146.6" r="7.15"/>
<circle cx="404.7" cy="1152" r="7.15"/>
<circle cx="412.9" cy="1148.2" r="7.15"/>
<circle cx="417.6" cy="1161.8" r="7.15"/>
<circle cx="418.8" cy="1165.3" r="7.15"/>
<circle cx="407.8" cy="1172.4" r="7.15"/>
<circle cx="420" cy="1171.9" r="7.15"/>
<circle cx="438.3" cy="1108.4" r="7.15"/>
<circle cx="435.9" cy="1119.1" r="7.15"/>
<circle cx="440.4" cy="1124.3" r="7.15"/>
<circle cx="431.7" cy="1151.3" r="7.15"/>
<circle cx="439.2" cy="1147.7" r="7.15"/>
<circle cx="451.6" cy="1131.3" r="7.15"/>
<circle cx="450.9" cy="1141.9" r="7.15"/>
<circle cx="488" cy="1146.6" r="7.15"/>
<circle cx="445.1" cy="1177.7" r="7.15"/>
<circle cx="420.4" cy="1189.5" r="7.15"/>
<circle cx="392.5" cy="1195.3" r="7.15"/>
<circle cx="411.8" cy="1198.1" r="7.15"/>
<circle cx="412.5" cy="1211" r="7.15"/>
<circle cx="412.5" cy="1214.1" r="7.15"/>
<circle cx="413.6" cy="1230.3" r="7.15"/>
<circle cx="348.5" cy="1198.6" r="7.15"/>
<circle cx="311" cy="1214.5" r="7.15"/>
<circle cx="333.9" cy="1216.2" r="7.15"/>
<circle cx="350.1" cy="1223.2" r="7.15"/>
<circle cx="361.8" cy="1228.1" r="7.15"/>
<circle cx="366.8" cy="1233.3" r="7.15"/>
<circle cx="336.1" cy="1233.3" r="7.15"/>
<circle cx="330.9" cy="1239.6" r="7.15"/>
<circle cx="348.9" cy="1238" r="7.15"/>
<circle cx="299.3" cy="1238.5" r="7.15"/>
<circle cx="360.9" cy="1250.9" r="7.15"/>
<circle cx="353.2" cy="1259.1" r="7.15"/>
<circle cx="362.5" cy="1258.6" r="7.15"/>
<circle cx="337.9" cy="1268.5" r="7.15"/>
<circle cx="364.4" cy="1275" r="7.15"/>
<circle cx="334.4" cy="1280.7" r="7.15"/>
<circle cx="302.8" cy="1275.5" r="7.15"/>
<circle cx="265.3" cy="1283.7" r="7.15"/>
<circle cx="301.6" cy="1298.9" r="7.15"/>
<circle cx="258.9" cy="1302" r="7.15"/>
<circle cx="223.5" cy="1252.8" r="7.15"/>
<circle cx="203.1" cy="1269.6" r="7.15"/>
<circle cx="215.6" cy="1319.6" r="7.15"/>
<circle cx="479" cy="1097.8" r="7.15"/>
</g><g fill="none" stroke="#141414" stroke-width="1.1">
<circle cx="505.5" cy="1019.5" r="7.15"/>
<circle cx="472.7" cy="1041.5" r="7.15"/>
<circle cx="448.1" cy="1061.5" r="7.15"/>
<circle cx="490.3" cy="1061.5" r="7.15"/>
<circle cx="505.5" cy="1063.3" r="7.15"/>
<circle cx="444.6" cy="1073.9" r="7.15"/>
<circle cx="455.1" cy="1084.4" r="7.15"/>
<circle cx="417.6" cy="1085.6" r="7.15"/>
<circle cx="427" cy="1091.5" r="7.15"/>
<circle cx="488" cy="1084.4" r="7.15"/>
<circle cx="508" cy="1076.2" r="7.15"/>
<circle cx="785.1" cy="815.3" r="7.15"/>
<circle cx="786.5" cy="896.9" r="7.15"/>
<circle cx="686.4" cy="1015.3" r="7.15"/>
<circle cx="715.7" cy="1017.2" r="7.15"/>
<circle cx="827.5" cy="1065" r="7.15"/>
<circle cx="650" cy="1065" r="7.15"/>
<circle cx="533.3" cy="999.3" r="7.15"/>
<circle cx="595.6" cy="1001.9" r="7.15"/>
<circle cx="515.9" cy="1018.8" r="7.15"/>
<circle cx="527" cy="1023" r="7.15"/>
<circle cx="617.2" cy="1027.7" r="7.15"/>
<circle cx="571" cy="1052.3" r="7.15"/>
<circle cx="580.4" cy="1065.7" r="7.15"/>
<circle cx="554.4" cy="1072.7" r="7.15"/>
<circle cx="537.5" cy="1070.8" r="7.15"/>
<circle cx="514.8" cy="1070.8" r="7.15"/>
<circle cx="548.5" cy="1095" r="7.15"/>
<circle cx="552" cy="1106" r="7.15"/>
<circle cx="513" cy="1131.3" r="7.15"/>
<circle cx="519.9" cy="1141.4" r="7.15"/>
<circle cx="737.5" cy="1099.7" r="7.15"/>
<circle cx="302.3" cy="1130.6" r="7.15"/>
<circle cx="353.2" cy="1147.7" r="7.15"/>
<circle cx="337.5" cy="1161.1" r="7.15"/>
<circle cx="356.7" cy="1161.1" r="7.15"/>
<circle cx="362.5" cy="1167" r="7.15"/>
<circle cx="362.5" cy="1172.4" r="7.15"/>
<circle cx="390" cy="1114.9" r="7.15"/>
<circle cx="396.1" cy="1138.4" r="7.15"/>
<circle cx="400.1" cy="1146.6" r="7.15"/>
<circle cx="404.7" cy="1152" r="7.15"/>
<circle cx="412.9" cy="1148.2" r="7.15"/>
<circle cx="417.6" cy="1161.8" r="7.15"/>
<circle cx="418.8" cy="1165.3" r="7.15"/>
<circle cx="407.8" cy="1172.4" r="7.15"/>
<circle cx="420" cy="1171.9" r="7.15"/>
<circle cx="438.3" cy="1108.4" r="7.15"/>
<circle cx="435.9" cy="1119.1" r="7.15"/>
<circle cx="440.4" cy="1124.3" r="7.15"/>
<circle cx="431.7" cy="1151.3" r="7.15"/>
<circle cx="439.2" cy="1147.7" r="7.15"/>
<circle cx="451.6" cy="1131.3" r="7.15"/>
<circle cx="450.9" cy="1141.9" r="7.15"/>
<circle cx="488" cy="1146.6" r="7.15"/>
<circle cx="445.1" cy="1177.7" r="7.15"/>
<circle cx="420.4" cy="1189.5" r="7.15"/>
<circle cx="392.5" cy="1195.3" r="7.15"/>
<circle cx="411.8" cy="1198.1" r="7.15"/>
<circle cx="412.5" cy="1211" r="7.15"/>
<circle cx="412.5" cy="1214.1" r="7.15"/>
<circle cx="413.6" cy="1230.3" r="7.15"/>
<circle cx="348.5" cy="1198.6" r="7.15"/>
<circle cx="311" cy="1214.5" r="7.15"/>
<circle cx="333.9" cy="1216.2" r="7.15"/>
<circle cx="350.1" cy="1223.2" r="7.15"/>
<circle cx="361.8" cy="1228.1" r="7.15"/>
<circle cx="366.8" cy="1233.3" r="7.15"/>
<circle cx="336.1" cy="1233.3" r="7.15"/>
<circle cx="330.9" cy="1239.6" r="7.15"/>
<circle cx="348.9" cy="1238" r="7.15"/>
<circle cx="299.3" cy="1238.5" r="7.15"/>
<circle cx="360.9" cy="1250.9" r="7.15"/>
<circle cx="353.2" cy="1259.1" r="7.15"/>
<circle cx="362.5" cy="1258.6" r="7.15"/>
<circle cx="337.9" cy="1268.5" r="7.15"/>
<circle cx="364.4" cy="1275" r="7.15"/>
<circle cx="334.4" cy="1280.7" r="7.15"/>
<circle cx="302.8" cy="1275.5" r="7.15"/>
<circle cx="265.3" cy="1283.7" r="7.15"/>
<circle cx="301.6" cy="1298.9" r="7.15"/>
<circle cx="258.9" cy="1302" r="7.15"/>
<circle cx="223.5" cy="1252.8" r="7.15"/>
<circle cx="203.1" cy="1269.6" r="7.15"/>
<circle cx="215.6" cy="1319.6" r="7.15"/>
<circle cx="479" cy="1097.8" r="7.15"/>
</g>
<g fill="#ff2b2b" stroke="#b00000" stroke-width="1.1" stroke-linejoin="miter">
<path d="M497.3 1045.4L504.6 1055.1L497.3 1064.8L490.1 1055.1Z"/>
<path d="M437.6 1065.3L444.9 1075L437.6 1084.7L430.4 1075Z"/>
<path d="M444.6 1072.8L451.9 1082.5L444.6 1092.2L437.4 1082.5Z"/>
<path d="M482.1 1073.6L489.4 1083.3L482.1 1093L474.9 1083.3Z"/>
<path d="M737.5 907.1L744.8 916.8L737.5 926.4L730.2 916.8Z"/>
<path d="M680.5 967.5L687.8 977.1L680.5 986.8L673.2 977.1Z"/>
<path d="M713.3 1014.9L720.5 1024.6L713.3 1034.2L706 1024.6Z"/>
<path d="M767.9 1004L775.1 1013.6L767.9 1023.2L760.6 1013.6Z"/>
<path d="M581.6 1017.9L588.9 1027.5L581.6 1037.2L574.4 1027.5Z"/>
<path d="M606.7 1040.8L614 1050.4L606.7 1060.1L599.5 1050.4Z"/>
<path d="M610.2 1044.3L617.5 1054L610.2 1063.7L603 1054Z"/>
<path d="M565.6 1058.3L572.9 1068L565.6 1077.7L558.4 1068Z"/>
<path d="M613.2 1072.4L620.5 1082.1L613.2 1091.8L606 1082.1Z"/>
<path d="M646 1106.9L653.2 1116.6L646 1126.2L638.8 1116.6Z"/>
<path d="M369.1 1160.3L376.4 1170L369.1 1179.7L361.9 1170Z"/>
<path d="M390.7 1108.8L397.9 1118.4L390.7 1128.1L383.4 1118.4Z"/>
<path d="M411.1 1117.6L418.4 1127.3L411.1 1137L403.9 1127.3Z"/>
<path d="M394.2 1136.9L401.4 1146.6L394.2 1156.2L386.9 1146.6Z"/>
<path d="M430.5 1131.8L437.8 1141.4L430.5 1151.1L423.2 1141.4Z"/>
<path d="M441.8 1132.2L449.1 1141.9L441.8 1151.6L434.6 1141.9Z"/>
<path d="M461 1115.8L468.2 1125.5L461 1135.2L453.8 1125.5Z"/>
<path d="M393.7 1224.3L400.9 1234L393.7 1243.7L386.4 1234Z"/>
<path d="M268.3 1258.3L275.6 1268L268.3 1277.7L261.1 1268Z"/>
<path d="M300 1281.5L307.2 1291.2L300 1300.9L292.8 1291.2Z"/>
<path d="M280 1301L287.2 1310.7L280 1320.4L272.8 1310.7Z"/>
<path d="M311.4 1299.1L318.6 1308.8L311.4 1318.5L304.1 1308.8Z"/>
<path d="M364.9 1293.9L372.1 1303.6L364.9 1313.2L357.6 1303.6Z"/>
<path d="M218.4 1239.3L225.7 1249L218.4 1258.7L211.2 1249Z"/>
<path d="M458 1087.6L465.2 1097.3L458 1107L450.8 1097.3Z"/>
<path d="M497.8 1087.6L505.1 1097.3L497.8 1107L490.6 1097.3Z"/>
</g>
<g stroke="#1c1c1c" stroke-width="1.3" fill="none">
<rect x="104.5" y="783.4" width="800" height="627.3"/>
<path d="M104.5 1410.7v-8.5M104.5 783.4v8.5M204.5 1410.7v-8.5M204.5 783.4v8.5M304.5 1410.7v-8.5M304.5 783.4v8.5M404.5 1410.7v-8.5M404.5 783.4v8.5M504.5 1410.7v-8.5M504.5 783.4v8.5M604.5 1410.7v-8.5M604.5 783.4v8.5M704.5 1410.7v-8.5M704.5 783.4v8.5M804.5 1410.7v-8.5M804.5 783.4v8.5M904.5 1410.7v-8.5M904.5 783.4v8.5M104.5 1410.7h8.5M904.5 1410.7h-8.5M104.5 1332.3h8.5M904.5 1332.3h-8.5M104.5 1253.9h8.5M904.5 1253.9h-8.5M104.5 1175.5h8.5M904.5 1175.5h-8.5M104.5 1097h8.5M904.5 1097h-8.5M104.5 1018.6h8.5M904.5 1018.6h-8.5M104.5 940.2h8.5M904.5 940.2h-8.5M104.5 861.8h8.5M904.5 861.8h-8.5M104.5 783.4h8.5M904.5 783.4h-8.5" stroke-width="1.3"/>
</g>
<g font-family="'Liberation Sans', Arial, sans-serif" font-size="33" fill="#000">
<text x="104.5" y="1453" text-anchor="middle">1</text>
<text x="204.5" y="1453" text-anchor="middle">2</text>
<text x="304.5" y="1453" text-anchor="middle">3</text>
<text x="404.5" y="1453" text-anchor="middle">4</text>
<text x="504.5" y="1453" text-anchor="middle">5</text>
<text x="604.5" y="1453" text-anchor="middle">6</text>
<text x="704.5" y="1453" text-anchor="middle">7</text>
<text x="804.5" y="1453" text-anchor="middle">8</text>
<text x="904.5" y="1453" text-anchor="middle">9</text>
<text x="97.7" y="1424.7" text-anchor="end">1</text>
<text x="97.7" y="1346.3" text-anchor="end">2</text>
<text x="97.7" y="1267.9" text-anchor="end">3</text>
<text x="97.7" y="1189.5" text-anchor="end">4</text>
<text x="97.7" y="1111" text-anchor="end">5</text>
<text x="97.7" y="1032.6" text-anchor="end">6</text>
<text x="97.7" y="954.2" text-anchor="end">7</text>
<text x="97.7" y="875.8" text-anchor="end">8</text>
<text x="97.7" y="797.4" text-anchor="end">9</text>
</g>
<text x="381.3" y="1489.5" font-family="'Liberation Sans', Arial, sans-serif" font-size="33.3" textLength="246.1" lengthAdjust="spacingAndGlyphs">mDP by Thiolysis</text>
<text transform="translate(61.1 1206.4) rotate(-90)" font-family="'Liberation Sans', Arial, sans-serif" font-size="33.3" textLength="224.3" lengthAdjust="spacingAndGlyphs">mDP by FT-MIR</text>
<text x="160.2" y="896.9" font-family="'Liberation Sans', Arial, sans-serif" font-size="37.6" textLength="149.1" lengthAdjust="spacingAndGlyphs">R<tspan font-size="24" dy="-12.5">2</tspan><tspan dy="12.5">P=0.66</tspan></text>
</g>
<g>
<line x1="1066" y1="1416.6" x2="1864.9" y2="850.8" stroke="#22dd22" stroke-width="1.3"/>
<line x1="1066" y1="1401.2" x2="1864.9" y2="859.3" stroke="#cc2222" stroke-width="1.3"/>
<g fill="#707070">
<circle cx="1821.2" cy="829.3" r="7.15"/>
<circle cx="1864.2" cy="808.5" r="7.15"/>
<circle cx="1864.6" cy="811.8" r="7.15"/>
<circle cx="1853.2" cy="824.7" r="7.15"/>
<circle cx="1864.6" cy="822" r="7.15"/>
<circle cx="1864.6" cy="825.1" r="7.15"/>
<circle cx="1864.6" cy="831.5" r="7.15"/>
<circle cx="1851.6" cy="844.5" r="7.15"/>
<circle cx="1844.8" cy="852.5" r="7.15"/>
<circle cx="1846.3" cy="855.5" r="7.15"/>
<circle cx="1851" cy="864" r="7.15"/>
<circle cx="1828" cy="859.7" r="7.15"/>
<circle cx="1829.9" cy="861.6" r="7.15"/>
<circle cx="1788.4" cy="872.3" r="7.15"/>
<circle cx="1864.6" cy="858.6" r="7.15"/>
<circle cx="1864.6" cy="863.2" r="7.15"/>
<circle cx="1864.6" cy="867.7" r="7.15"/>
<circle cx="1864.6" cy="872.3" r="7.15"/>
<circle cx="1863.1" cy="880" r="7.15"/>
<circle cx="1846.3" cy="880" r="7.15"/>
<circle cx="1852.4" cy="884.5" r="7.15"/>
<circle cx="1853.2" cy="891.4" r="7.15"/>
<circle cx="1864.6" cy="905.1" r="7.15"/>
<circle cx="1864.6" cy="907.4" r="7.15"/>
<circle cx="1864.6" cy="942.4" r="7.15"/>
<circle cx="1791.8" cy="896.7" r="7.15"/>
<circle cx="1823.4" cy="890.6" r="7.15"/>
<circle cx="1837.9" cy="895.6" r="7.15"/>
<circle cx="1829.2" cy="907.8" r="7.15"/>
<circle cx="1796" cy="915" r="7.15"/>
<circle cx="1799.1" cy="915" r="7.15"/>
<circle cx="1796.4" cy="936" r="7.15"/>
<circle cx="1768.9" cy="889.5" r="7.15"/>
<circle cx="1677.5" cy="961.7" r="7.15"/>
<circle cx="1709.1" cy="942.2" r="7.15"/>
<circle cx="1719.2" cy="937.1" r="7.15"/>
<circle cx="1721.5" cy="944.1" r="7.15"/>
<circle cx="1734.2" cy="953" r="7.15"/>
<circle cx="1703.2" cy="968.7" r="7.15"/>
<circle cx="1711.9" cy="971" r="7.15"/>
<circle cx="1723.6" cy="975.7" r="7.15"/>
<circle cx="1456.2" cy="1092.9" r="7.15"/>
<circle cx="1518.8" cy="1112.9" r="7.15"/>
<circle cx="1591.2" cy="1121.1" r="7.15"/>
<circle cx="1501.2" cy="1129.3" r="7.15"/>
<circle cx="1474.7" cy="1134" r="7.15"/>
<circle cx="1472.8" cy="1145.7" r="7.15"/>
<circle cx="1458.5" cy="1116.9" r="7.15"/>
<circle cx="1413.5" cy="1130.9" r="7.15"/>
<circle cx="1426.2" cy="1139.4" r="7.15"/>
<circle cx="1437.4" cy="1127.7" r="7.15"/>
<circle cx="1462" cy="1137.5" r="7.15"/>
<circle cx="1466.7" cy="1132.8" r="7.15"/>
<circle cx="1437.4" cy="1154.4" r="7.15"/>
<circle cx="1405.3" cy="1175" r="7.15"/>
<circle cx="1413.5" cy="1234.8" r="7.15"/>
<circle cx="1331.9" cy="1172" r="7.15"/>
<circle cx="1340.6" cy="1172" r="7.15"/>
<circle cx="1350.7" cy="1181.3" r="7.15"/>
<circle cx="1317.1" cy="1199.6" r="7.15"/>
<circle cx="1338.2" cy="1205.5" r="7.15"/>
<circle cx="1331.2" cy="1213" r="7.15"/>
<circle cx="1309" cy="1223.5" r="7.15"/>
<circle cx="1320.7" cy="1224.9" r="7.15"/>
<circle cx="1350.7" cy="1220" r="7.15"/>
<circle cx="1331.9" cy="1231.3" r="7.15"/>
<circle cx="1331.2" cy="1236.7" r="7.15"/>
<circle cx="1345.3" cy="1232" r="7.15"/>
<circle cx="1337.3" cy="1249.3" r="7.15"/>
<circle cx="1222.9" cy="1217.2" r="7.15"/>
<circle cx="1265.8" cy="1231.7" r="7.15"/>
<circle cx="1262.8" cy="1245.3" r="7.15"/>
<circle cx="1293.9" cy="1254" r="7.15"/>
<circle cx="1249.9" cy="1261.3" r="7.15"/>
<circle cx="1260.9" cy="1267.1" r="7.15"/>
<circle cx="1271" cy="1279.3" r="7.15"/>
<circle cx="1273.3" cy="1277.7" r="7.15"/>
<circle cx="1288.1" cy="1285.7" r="7.15"/>
<circle cx="1317.9" cy="1274.2" r="7.15"/>
<circle cx="1323.2" cy="1296.9" r="7.15"/>
<circle cx="1247.5" cy="1295.7" r="7.15"/>
<circle cx="1295.6" cy="1309.1" r="7.15"/>
<circle cx="1217.8" cy="1304.6" r="7.15"/>
<circle cx="1194.8" cy="1319.2" r="7.15"/>
<circle cx="1221.7" cy="1322.7" r="7.15"/>
<circle cx="1132" cy="1264.8" r="7.15"/>
<circle cx="1175.3" cy="1395.4" r="7.15"/>
</g><g fill="none" stroke="#141414" stroke-width="1.1">
<circle cx="1821.2" cy="829.3" r="7.15"/>
<circle cx="1864.2" cy="808.5" r="7.15"/>
<circle cx="1864.6" cy="811.8" r="7.15"/>
<circle cx="1853.2" cy="824.7" r="7.15"/>
<circle cx="1864.6" cy="822" r="7.15"/>
<circle cx="1864.6" cy="825.1" r="7.15"/>
<circle cx="1864.6" cy="831.5" r="7.15"/>
<circle cx="1851.6" cy="844.5" r="7.15"/>
<circle cx="1844.8" cy="852.5" r="7.15"/>
<circle cx="1846.3" cy="855.5" r="7.15"/>
<circle cx="1851" cy="864" r="7.15"/>
<circle cx="1828" cy="859.7" r="7.15"/>
<circle cx="1829.9" cy="861.6" r="7.15"/>
<circle cx="1788.4" cy="872.3" r="7.15"/>
<circle cx="1864.6" cy="858.6" r="7.15"/>
<circle cx="1864.6" cy="863.2" r="7.15"/>
<circle cx="1864.6" cy="867.7" r="7.15"/>
<circle cx="1864.6" cy="872.3" r="7.15"/>
<circle cx="1863.1" cy="880" r="7.15"/>
<circle cx="1846.3" cy="880" r="7.15"/>
<circle cx="1852.4" cy="884.5" r="7.15"/>
<circle cx="1853.2" cy="891.4" r="7.15"/>
<circle cx="1864.6" cy="905.1" r="7.15"/>
<circle cx="1864.6" cy="907.4" r="7.15"/>
<circle cx="1864.6" cy="942.4" r="7.15"/>
<circle cx="1791.8" cy="896.7" r="7.15"/>
<circle cx="1823.4" cy="890.6" r="7.15"/>
<circle cx="1837.9" cy="895.6" r="7.15"/>
<circle cx="1829.2" cy="907.8" r="7.15"/>
<circle cx="1796" cy="915" r="7.15"/>
<circle cx="1799.1" cy="915" r="7.15"/>
<circle cx="1796.4" cy="936" r="7.15"/>
<circle cx="1768.9" cy="889.5" r="7.15"/>
<circle cx="1677.5" cy="961.7" r="7.15"/>
<circle cx="1709.1" cy="942.2" r="7.15"/>
<circle cx="1719.2" cy="937.1" r="7.15"/>
<circle cx="1721.5" cy="944.1" r="7.15"/>
<circle cx="1734.2" cy="953" r="7.15"/>
<circle cx="1703.2" cy="968.7" r="7.15"/>
<circle cx="1711.9" cy="971" r="7.15"/>
<circle cx="1723.6" cy="975.7" r="7.15"/>
<circle cx="1456.2" cy="1092.9" r="7.15"/>
<circle cx="1518.8" cy="1112.9" r="7.15"/>
<circle cx="1591.2" cy="1121.1" r="7.15"/>
<circle cx="1501.2" cy="1129.3" r="7.15"/>
<circle cx="1474.7" cy="1134" r="7.15"/>
<circle cx="1472.8" cy="1145.7" r="7.15"/>
<circle cx="1458.5" cy="1116.9" r="7.15"/>
<circle cx="1413.5" cy="1130.9" r="7.15"/>
<circle cx="1426.2" cy="1139.4" r="7.15"/>
<circle cx="1437.4" cy="1127.7" r="7.15"/>
<circle cx="1462" cy="1137.5" r="7.15"/>
<circle cx="1466.7" cy="1132.8" r="7.15"/>
<circle cx="1437.4" cy="1154.4" r="7.15"/>
<circle cx="1405.3" cy="1175" r="7.15"/>
<circle cx="1413.5" cy="1234.8" r="7.15"/>
<circle cx="1331.9" cy="1172" r="7.15"/>
<circle cx="1340.6" cy="1172" r="7.15"/>
<circle cx="1350.7" cy="1181.3" r="7.15"/>
<circle cx="1317.1" cy="1199.6" r="7.15"/>
<circle cx="1338.2" cy="1205.5" r="7.15"/>
<circle cx="1331.2" cy="1213" r="7.15"/>
<circle cx="1309" cy="1223.5" r="7.15"/>
<circle cx="1320.7" cy="1224.9" r="7.15"/>
<circle cx="1350.7" cy="1220" r="7.15"/>
<circle cx="1331.9" cy="1231.3" r="7.15"/>
<circle cx="1331.2" cy="1236.7" r="7.15"/>
<circle cx="1345.3" cy="1232" r="7.15"/>
<circle cx="1337.3" cy="1249.3" r="7.15"/>
<circle cx="1222.9" cy="1217.2" r="7.15"/>
<circle cx="1265.8" cy="1231.7" r="7.15"/>
<circle cx="1262.8" cy="1245.3" r="7.15"/>
<circle cx="1293.9" cy="1254" r="7.15"/>
<circle cx="1249.9" cy="1261.3" r="7.15"/>
<circle cx="1260.9" cy="1267.1" r="7.15"/>
<circle cx="1271" cy="1279.3" r="7.15"/>
<circle cx="1273.3" cy="1277.7" r="7.15"/>
<circle cx="1288.1" cy="1285.7" r="7.15"/>
<circle cx="1317.9" cy="1274.2" r="7.15"/>
<circle cx="1323.2" cy="1296.9" r="7.15"/>
<circle cx="1247.5" cy="1295.7" r="7.15"/>
<circle cx="1295.6" cy="1309.1" r="7.15"/>
<circle cx="1217.8" cy="1304.6" r="7.15"/>
<circle cx="1194.8" cy="1319.2" r="7.15"/>
<circle cx="1221.7" cy="1322.7" r="7.15"/>
<circle cx="1132" cy="1264.8" r="7.15"/>
<circle cx="1175.3" cy="1395.4" r="7.15"/>
</g>
<g fill="#ff2b2b" stroke="#b00000" stroke-width="1.1" stroke-linejoin="miter">
<path d="M1864.6 829.1L1871.8 838.8L1864.6 848.4L1857.3 838.8Z"/>
<path d="M1864.6 835.2L1871.8 844.9L1864.6 854.5L1857.3 844.9Z"/>
<path d="M1857.7 847.5L1865 857.1L1857.7 866.8L1850.5 857.1Z"/>
<path d="M1841.7 852.4L1849 862L1841.7 871.6L1834.5 862Z"/>
<path d="M1845.5 864.1L1852.8 873.8L1845.5 883.4L1838.2 873.8Z"/>
<path d="M1855.5 869.6L1862.8 879.2L1855.5 888.9L1848.2 879.2Z"/>
<path d="M1860.8 884.8L1868 894.4L1860.8 904L1853.5 894.4Z"/>
<path d="M1864.2 906.1L1871.5 915.8L1864.2 925.4L1857 915.8Z"/>
<path d="M1864.2 926.6L1871.5 936.3L1864.2 945.9L1857 936.3Z"/>
<path d="M1790.3 911.5L1797.5 921.1L1790.3 930.8L1783 921.1Z"/>
<path d="M1760 897L1767.2 906.6L1760 916.2L1752.8 906.6Z"/>
<path d="M1656.4 967.2L1663.7 976.9L1656.4 986.5L1649.2 976.9Z"/>
<path d="M1543.4 1069.2L1550.7 1078.9L1543.4 1088.6L1536.2 1078.9Z"/>
<path d="M1471.5 1056.3L1478.8 1066L1471.5 1075.7L1464.2 1066Z"/>
<path d="M1478.2 1086.3L1485.5 1096L1478.2 1105.7L1471 1096Z"/>
<path d="M1488.8 1115.6L1496 1125.3L1488.8 1135L1481.5 1125.3Z"/>
<path d="M1491.1 1117.3L1498.3 1127L1491.1 1136.7L1483.8 1127Z"/>
<path d="M1448.4 1097.3L1455.7 1107L1448.4 1116.7L1441.2 1107Z"/>
<path d="M1324.9 1185.9L1332.2 1195.6L1324.9 1205.2L1317.7 1195.6Z"/>
<path d="M1297.5 1191.6L1304.8 1201.3L1297.5 1211L1290.2 1201.3Z"/>
<path d="M1337.8 1214.5L1345 1224.2L1337.8 1233.9L1330.5 1224.2Z"/>
<path d="M1235.1 1235.2L1242.3 1244.9L1235.1 1254.6L1227.8 1244.9Z"/>
<path d="M1295.6 1236.8L1302.8 1246.5L1295.6 1256.2L1288.3 1246.5Z"/>
<path d="M1284.3 1262.6L1291.5 1272.3L1284.3 1282L1277 1272.3Z"/>
<path d="M1313.9 1254.4L1321.2 1264.1L1313.9 1273.8L1306.7 1264.1Z"/>
<path d="M1272.8 1297.8L1280 1307.5L1272.8 1317.2L1265.5 1307.5Z"/>
<path d="M1206 1328.2L1213.2 1337.9L1206 1347.6L1198.8 1337.9Z"/>
<path d="M1213.5 1341.1L1220.8 1350.8L1213.5 1360.5L1206.2 1350.8Z"/>
<path d="M1166.2 1250.2L1173.5 1259.9L1166.2 1269.6L1159 1259.9Z"/>
<path d="M1170.6 1355.8L1177.8 1365.4L1170.6 1375.1L1163.3 1365.4Z"/>
</g>
<g stroke="#1c1c1c" stroke-width="1.3" fill="none">
<rect x="1066" y="788" width="799.8" height="627.5"/>
<path d="M1156.1 1415.5v-8.5M1156.1 788v8.5M1333.3 1415.5v-8.5M1333.3 788v8.5M1510.5 1415.5v-8.5M1510.5 788v8.5M1687.7 1415.5v-8.5M1687.7 788v8.5M1864.9 1415.5v-8.5M1864.9 788v8.5M1066 1352.8h8.5M1865.8 1352.8h-8.5M1066 1227.2h8.5M1865.8 1227.2h-8.5M1066 1101.8h8.5M1865.8 1101.8h-8.5M1066 976.2h8.5M1865.8 976.2h-8.5M1066 850.8h8.5M1865.8 850.8h-8.5" stroke-width="1.3"/>
</g>
<g font-family="'Liberation Sans', Arial, sans-serif" font-size="33" fill="#000">
<text x="1156.1" y="1457.8" text-anchor="middle">20</text>
<text x="1333.3" y="1457.8" text-anchor="middle">40</text>
<text x="1510.5" y="1457.8" text-anchor="middle">60</text>
<text x="1687.7" y="1457.8" text-anchor="middle">80</text>
<text x="1864.9" y="1457.8" text-anchor="middle" textLength="50.6" lengthAdjust="spacingAndGlyphs">100</text>
<text x="1057.4" y="1366.8" text-anchor="end">20</text>
<text x="1057.4" y="1241.2" text-anchor="end">40</text>
<text x="1057.4" y="1115.8" text-anchor="end">60</text>
<text x="1057.4" y="990.2" text-anchor="end">80</text>
<text x="1057.4" y="864.8" text-anchor="end" textLength="50.6" lengthAdjust="spacingAndGlyphs">100</text>
</g>
<text x="1251.8" y="1493.9" font-family="'Liberation Sans', Arial, sans-serif" font-size="33.3" textLength="428.2" lengthAdjust="spacingAndGlyphs">PC content by Thiolysis (%CT)</text>
<text transform="translate(988.2 1308.9) rotate(-90)" font-family="'Liberation Sans', Arial, sans-serif" font-size="33.3" textLength="412.1" lengthAdjust="spacingAndGlyphs">PC content by FT-MIR (%CT)</text>
<text x="1138.5" y="896.5" font-family="'Liberation Sans', Arial, sans-serif" font-size="37.6" textLength="149.1" lengthAdjust="spacingAndGlyphs">R<tspan font-size="24" dy="-12.5">2</tspan><tspan dy="12.5">P=0.96</tspan></text>
</g>
<g>
<line x1="105.2" y1="2179.6" x2="903.7" y2="1608.7" stroke="#22dd22" stroke-width="1.3"/>
<line x1="105.2" y1="2169.9" x2="903.7" y2="1617" stroke="#cc2222" stroke-width="1.3"/>
<g fill="#707070">
<circle cx="536.3" cy="1831" r="7.15"/>
<circle cx="718" cy="1710.3" r="7.15"/>
<circle cx="838" cy="1705.1" r="7.15"/>
<circle cx="902.5" cy="1580.6" r="7.15"/>
<circle cx="873.9" cy="1596.1" r="7.15"/>
<circle cx="872.7" cy="1611.3" r="7.15"/>
<circle cx="878.6" cy="1611.3" r="7.15"/>
<circle cx="851.6" cy="1617.2" r="7.15"/>
<circle cx="859.8" cy="1614.2" r="7.15"/>
<circle cx="841.5" cy="1625.9" r="7.15"/>
<circle cx="833.6" cy="1632.2" r="7.15"/>
<circle cx="866.4" cy="1625.4" r="7.15"/>
<circle cx="870.4" cy="1625.9" r="7.15"/>
<circle cx="856.3" cy="1635.2" r="7.15"/>
<circle cx="888" cy="1628.2" r="7.15"/>
<circle cx="903.2" cy="1628.7" r="7.15"/>
<circle cx="875.1" cy="1641.1" r="7.15"/>
<circle cx="841.1" cy="1647" r="7.15"/>
<circle cx="844.1" cy="1651.7" r="7.15"/>
<circle cx="862.9" cy="1647" r="7.15"/>
<circle cx="862.9" cy="1659.9" r="7.15"/>
<circle cx="874.6" cy="1661.5" r="7.15"/>
<circle cx="865.7" cy="1675.1" r="7.15"/>
<circle cx="861" cy="1681" r="7.15"/>
<circle cx="868.7" cy="1685" r="7.15"/>
<circle cx="886.8" cy="1684.5" r="7.15"/>
<circle cx="480.9" cy="1894.3" r="7.15"/>
<circle cx="489.1" cy="1895.5" r="7.15"/>
<circle cx="482.6" cy="1914.2" r="7.15"/>
<circle cx="488.4" cy="1911.9" r="7.15"/>
<circle cx="512" cy="1917.3" r="7.15"/>
<circle cx="425.8" cy="1932.3" r="7.15"/>
<circle cx="430.5" cy="1937.7" r="7.15"/>
<circle cx="438.7" cy="1932.3" r="7.15"/>
<circle cx="445.8" cy="1928.3" r="7.15"/>
<circle cx="464.5" cy="1940.7" r="7.15"/>
<circle cx="479.7" cy="1933" r="7.15"/>
<circle cx="480.9" cy="1949.9" r="7.15"/>
<circle cx="500.5" cy="1952.6" r="7.15"/>
<circle cx="351.3" cy="1945.2" r="7.15"/>
<circle cx="376.6" cy="1941.2" r="7.15"/>
<circle cx="409.4" cy="1963.5" r="7.15"/>
<circle cx="406.6" cy="1973.3" r="7.15"/>
<circle cx="352" cy="1965.3" r="7.15"/>
<circle cx="347.3" cy="1975.6" r="7.15"/>
<circle cx="356" cy="1978.7" r="7.15"/>
<circle cx="350.8" cy="1983.4" r="7.15"/>
<circle cx="328.6" cy="1978.7" r="7.15"/>
<circle cx="305.8" cy="1979.4" r="7.15"/>
<circle cx="292.2" cy="1993.9" r="7.15"/>
<circle cx="326.9" cy="1999.1" r="7.15"/>
<circle cx="327.4" cy="2011.5" r="7.15"/>
<circle cx="326.2" cy="2016.2" r="7.15"/>
<circle cx="325.5" cy="2020.9" r="7.15"/>
<circle cx="312.1" cy="2015" r="7.15"/>
<circle cx="360.9" cy="2019" r="7.15"/>
<circle cx="384.1" cy="2026.3" r="7.15"/>
<circle cx="440.4" cy="2014.6" r="7.15"/>
<circle cx="245.8" cy="2003.8" r="7.15"/>
<circle cx="266.4" cy="2011.5" r="7.15"/>
<circle cx="274.6" cy="2011.5" r="7.15"/>
<circle cx="256.4" cy="2019.2" r="7.15"/>
<circle cx="234.3" cy="2028.4" r="7.15"/>
<circle cx="230.1" cy="2057.9" r="7.15"/>
<circle cx="258.7" cy="2065" r="7.15"/>
<circle cx="234.3" cy="2074.1" r="7.15"/>
<circle cx="320.3" cy="2043.2" r="7.15"/>
<circle cx="339.1" cy="2056" r="7.15"/>
<circle cx="337.2" cy="2060" r="7.15"/>
<circle cx="357.2" cy="2056" r="7.15"/>
<circle cx="168" cy="2060.7" r="7.15"/>
<circle cx="201.5" cy="2091.2" r="7.15"/>
<circle cx="189.5" cy="2101.8" r="7.15"/>
<circle cx="205.5" cy="2104.1" r="7.15"/>
<circle cx="180.9" cy="2129.9" r="7.15"/>
<circle cx="198.5" cy="2135.8" r="7.15"/>
<circle cx="169.2" cy="2138.8" r="7.15"/>
<circle cx="146.4" cy="2141.1" r="7.15"/>
<circle cx="152" cy="2147.5" r="7.15"/>
<circle cx="160.5" cy="2153.3" r="7.15"/>
<circle cx="552" cy="1875.5" r="7.15"/>
<circle cx="560.2" cy="1876.3" r="7.15"/>
<circle cx="539.4" cy="1912.6" r="7.15"/>
<circle cx="611.8" cy="1991.1" r="7.15"/>
</g><g fill="none" stroke="#141414" stroke-width="1.1">
<circle cx="536.3" cy="1831" r="7.15"/>
<circle cx="718" cy="1710.3" r="7.15"/>
<circle cx="838" cy="1705.1" r="7.15"/>
<circle cx="902.5" cy="1580.6" r="7.15"/>
<circle cx="873.9" cy="1596.1" r="7.15"/>
<circle cx="872.7" cy="1611.3" r="7.15"/>
<circle cx="878.6" cy="1611.3" r="7.15"/>
<circle cx="851.6" cy="1617.2" r="7.15"/>
<circle cx="859.8" cy="1614.2" r="7.15"/>
<circle cx="841.5" cy="1625.9" r="7.15"/>
<circle cx="833.6" cy="1632.2" r="7.15"/>
<circle cx="866.4" cy="1625.4" r="7.15"/>
<circle cx="870.4" cy="1625.9" r="7.15"/>
<circle cx="856.3" cy="1635.2" r="7.15"/>
<circle cx="888" cy="1628.2" r="7.15"/>
<circle cx="903.2" cy="1628.7" r="7.15"/>
<circle cx="875.1" cy="1641.1" r="7.15"/>
<circle cx="841.1" cy="1647" r="7.15"/>
<circle cx="844.1" cy="1651.7" r="7.15"/>
<circle cx="862.9" cy="1647" r="7.15"/>
<circle cx="862.9" cy="1659.9" r="7.15"/>
<circle cx="874.6" cy="1661.5" r="7.15"/>
<circle cx="865.7" cy="1675.1" r="7.15"/>
<circle cx="861" cy="1681" r="7.15"/>
<circle cx="868.7" cy="1685" r="7.15"/>
<circle cx="886.8" cy="1684.5" r="7.15"/>
<circle cx="480.9" cy="1894.3" r="7.15"/>
<circle cx="489.1" cy="1895.5" r="7.15"/>
<circle cx="482.6" cy="1914.2" r="7.15"/>
<circle cx="488.4" cy="1911.9" r="7.15"/>
<circle cx="512" cy="1917.3" r="7.15"/>
<circle cx="425.8" cy="1932.3" r="7.15"/>
<circle cx="430.5" cy="1937.7" r="7.15"/>
<circle cx="438.7" cy="1932.3" r="7.15"/>
<circle cx="445.8" cy="1928.3" r="7.15"/>
<circle cx="464.5" cy="1940.7" r="7.15"/>
<circle cx="479.7" cy="1933" r="7.15"/>
<circle cx="480.9" cy="1949.9" r="7.15"/>
<circle cx="500.5" cy="1952.6" r="7.15"/>
<circle cx="351.3" cy="1945.2" r="7.15"/>
<circle cx="376.6" cy="1941.2" r="7.15"/>
<circle cx="409.4" cy="1963.5" r="7.15"/>
<circle cx="406.6" cy="1973.3" r="7.15"/>
<circle cx="352" cy="1965.3" r="7.15"/>
<circle cx="347.3" cy="1975.6" r="7.15"/>
<circle cx="356" cy="1978.7" r="7.15"/>
<circle cx="350.8" cy="1983.4" r="7.15"/>
<circle cx="328.6" cy="1978.7" r="7.15"/>
<circle cx="305.8" cy="1979.4" r="7.15"/>
<circle cx="292.2" cy="1993.9" r="7.15"/>
<circle cx="326.9" cy="1999.1" r="7.15"/>
<circle cx="327.4" cy="2011.5" r="7.15"/>
<circle cx="326.2" cy="2016.2" r="7.15"/>
<circle cx="325.5" cy="2020.9" r="7.15"/>
<circle cx="312.1" cy="2015" r="7.15"/>
<circle cx="360.9" cy="2019" r="7.15"/>
<circle cx="384.1" cy="2026.3" r="7.15"/>
<circle cx="440.4" cy="2014.6" r="7.15"/>
<circle cx="245.8" cy="2003.8" r="7.15"/>
<circle cx="266.4" cy="2011.5" r="7.15"/>
<circle cx="274.6" cy="2011.5" r="7.15"/>
<circle cx="256.4" cy="2019.2" r="7.15"/>
<circle cx="234.3" cy="2028.4" r="7.15"/>
<circle cx="230.1" cy="2057.9" r="7.15"/>
<circle cx="258.7" cy="2065" r="7.15"/>
<circle cx="234.3" cy="2074.1" r="7.15"/>
<circle cx="320.3" cy="2043.2" r="7.15"/>
<circle cx="339.1" cy="2056" r="7.15"/>
<circle cx="337.2" cy="2060" r="7.15"/>
<circle cx="357.2" cy="2056" r="7.15"/>
<circle cx="168" cy="2060.7" r="7.15"/>
<circle cx="201.5" cy="2091.2" r="7.15"/>
<circle cx="189.5" cy="2101.8" r="7.15"/>
<circle cx="205.5" cy="2104.1" r="7.15"/>
<circle cx="180.9" cy="2129.9" r="7.15"/>
<circle cx="198.5" cy="2135.8" r="7.15"/>
<circle cx="169.2" cy="2138.8" r="7.15"/>
<circle cx="146.4" cy="2141.1" r="7.15"/>
<circle cx="152" cy="2147.5" r="7.15"/>
<circle cx="160.5" cy="2153.3" r="7.15"/>
<circle cx="552" cy="1875.5" r="7.15"/>
<circle cx="560.2" cy="1876.3" r="7.15"/>
<circle cx="539.4" cy="1912.6" r="7.15"/>
<circle cx="611.8" cy="1991.1" r="7.15"/>
</g>
<g fill="#ff2b2b" stroke="#b00000" stroke-width="1.1" stroke-linejoin="miter">
<path d="M797 1600.2L804.2 1609.9L797 1619.6L789.8 1609.9Z"/>
<path d="M864.5 1571.6L871.8 1581.3L864.5 1591L857.2 1581.3Z"/>
<path d="M872.7 1587.3L880 1597L872.7 1606.7L865.5 1597Z"/>
<path d="M887.5 1611.5L894.8 1621.2L887.5 1630.9L880.2 1621.2Z"/>
<path d="M902.7 1615L910 1624.7L902.7 1634.4L895.5 1624.7Z"/>
<path d="M868 1629.1L875.2 1638.8L868 1648.5L860.8 1638.8Z"/>
<path d="M871.5 1629.1L878.8 1638.8L871.5 1648.5L864.2 1638.8Z"/>
<path d="M882.8 1630.2L890 1639.9L882.8 1649.6L875.5 1639.9Z"/>
<path d="M866.9 1660L874.1 1669.7L866.9 1679.4L859.6 1669.7Z"/>
<path d="M341.4 1878L348.6 1887.7L341.4 1897.4L334.1 1887.7Z"/>
<path d="M494.5 1887.4L501.8 1897.1L494.5 1906.8L487.2 1897.1Z"/>
<path d="M479.7 1901.8L486.9 1911.4L479.7 1921.1L472.4 1911.4Z"/>
<path d="M453.3 1922.8L460.6 1932.5L453.3 1942.2L446.1 1932.5Z"/>
<path d="M507 1922.9L514.2 1932.6L507 1942.2L499.8 1932.6Z"/>
<path d="M472.7 1950.2L479.9 1959.9L472.7 1969.6L465.4 1959.9Z"/>
<path d="M500.5 1952.6L507.8 1962.3L500.5 1972L493.2 1962.3Z"/>
<path d="M508.6 1970.2L515.9 1979.9L508.6 1989.6L501.4 1979.9Z"/>
<path d="M345.7 1978.8L352.9 1988.5L345.7 1998.2L338.4 1988.5Z"/>
<path d="M311 1989.4L318.2 1999.1L311 2008.8L303.8 1999.1Z"/>
<path d="M369.6 2004.9L376.9 2014.6L369.6 2024.2L362.4 2014.6Z"/>
<path d="M270.4 2003.4L277.6 2013.1L270.4 2022.8L263.1 2013.1Z"/>
<path d="M264.1 2039.8L271.4 2049.5L264.1 2059.2L256.9 2049.5Z"/>
<path d="M322.7 2039.3L329.9 2049L322.7 2058.7L315.4 2049Z"/>
<path d="M305.6 2057.4L312.9 2067.1L305.6 2076.8L298.4 2067.1Z"/>
<path d="M354.8 2058.2L362.1 2067.8L354.8 2077.5L347.6 2067.8Z"/>
<path d="M157.4 2153L164.7 2162.7L157.4 2172.3L150.2 2162.7Z"/>
<path d="M516.4 1868.2L523.6 1877.9L516.4 1887.6L509.1 1877.9Z"/>
<path d="M522.7 1865.8L530 1875.5L522.7 1885.2L515.5 1875.5Z"/>
<path d="M540.3 1896.3L547.5 1906L540.3 1915.7L533 1906Z"/>
</g>
<g stroke="#1c1c1c" stroke-width="1.3" fill="none">
<rect x="104.5" y="1551.6" width="799.5" height="628"/>
<path d="M105.2 2179.6v-8.5M105.2 1551.6v8.5M264.9 2179.6v-8.5M264.9 1551.6v8.5M424.6 2179.6v-8.5M424.6 1551.6v8.5M584.3 2179.6v-8.5M584.3 1551.6v8.5M744 2179.6v-8.5M744 1551.6v8.5M903.7 2179.6v-8.5M903.7 1551.6v8.5M104.5 2179.6h8.5M904 2179.6h-8.5M104.5 2065.4h8.5M904 2065.4h-8.5M104.5 1951.2h8.5M904 1951.2h-8.5M104.5 1837.1h8.5M904 1837.1h-8.5M104.5 1722.9h8.5M904 1722.9h-8.5M104.5 1608.7h8.5M904 1608.7h-8.5" stroke-width="1.3"/>
<line x1="106.1" y1="1553.6" x2="106.1" y2="2178.6" stroke="#444" stroke-width="1.7" stroke-dasharray="2.3 2.3"/>
</g>
<g font-family="'Liberation Sans', Arial, sans-serif" font-size="33" fill="#000">
<text x="105.2" y="2221.9" text-anchor="middle">0</text>
<text x="264.9" y="2221.9" text-anchor="middle">20</text>
<text x="424.6" y="2221.9" text-anchor="middle">40</text>
<text x="584.3" y="2221.9" text-anchor="middle">60</text>
<text x="744" y="2221.9" text-anchor="middle">80</text>
<text x="903.7" y="2221.9" text-anchor="middle" textLength="50.6" lengthAdjust="spacingAndGlyphs">100</text>
<text x="95.9" y="2193.6" text-anchor="end">0</text>
<text x="95.9" y="2079.4" text-anchor="end">20</text>
<text x="95.9" y="1965.2" text-anchor="end">40</text>
<text x="95.9" y="1851.1" text-anchor="end">60</text>
<text x="95.9" y="1736.9" text-anchor="end">80</text>
<text x="95.9" y="1622.7" text-anchor="end" textLength="50.6" lengthAdjust="spacingAndGlyphs">100</text>
</g>
<text x="290" y="2258.5" font-family="'Liberation Sans', Arial, sans-serif" font-size="33.3" textLength="428" lengthAdjust="spacingAndGlyphs">cis content by Thiolysis (%CT)</text>
<text transform="translate(26.8 2079.2) rotate(-90)" font-family="'Liberation Sans', Arial, sans-serif" font-size="33.3" textLength="422" lengthAdjust="spacingAndGlyphs">cis content by FT-MIR (%CT)</text>
<text x="159.3" y="1665" font-family="'Liberation Sans', Arial, sans-serif" font-size="37.6" textLength="148.9" lengthAdjust="spacingAndGlyphs">R<tspan font-size="24" dy="-12.5">2</tspan><tspan dy="12.5">P=0.95</tspan></text>
</g>
</svg>
</body></html>
